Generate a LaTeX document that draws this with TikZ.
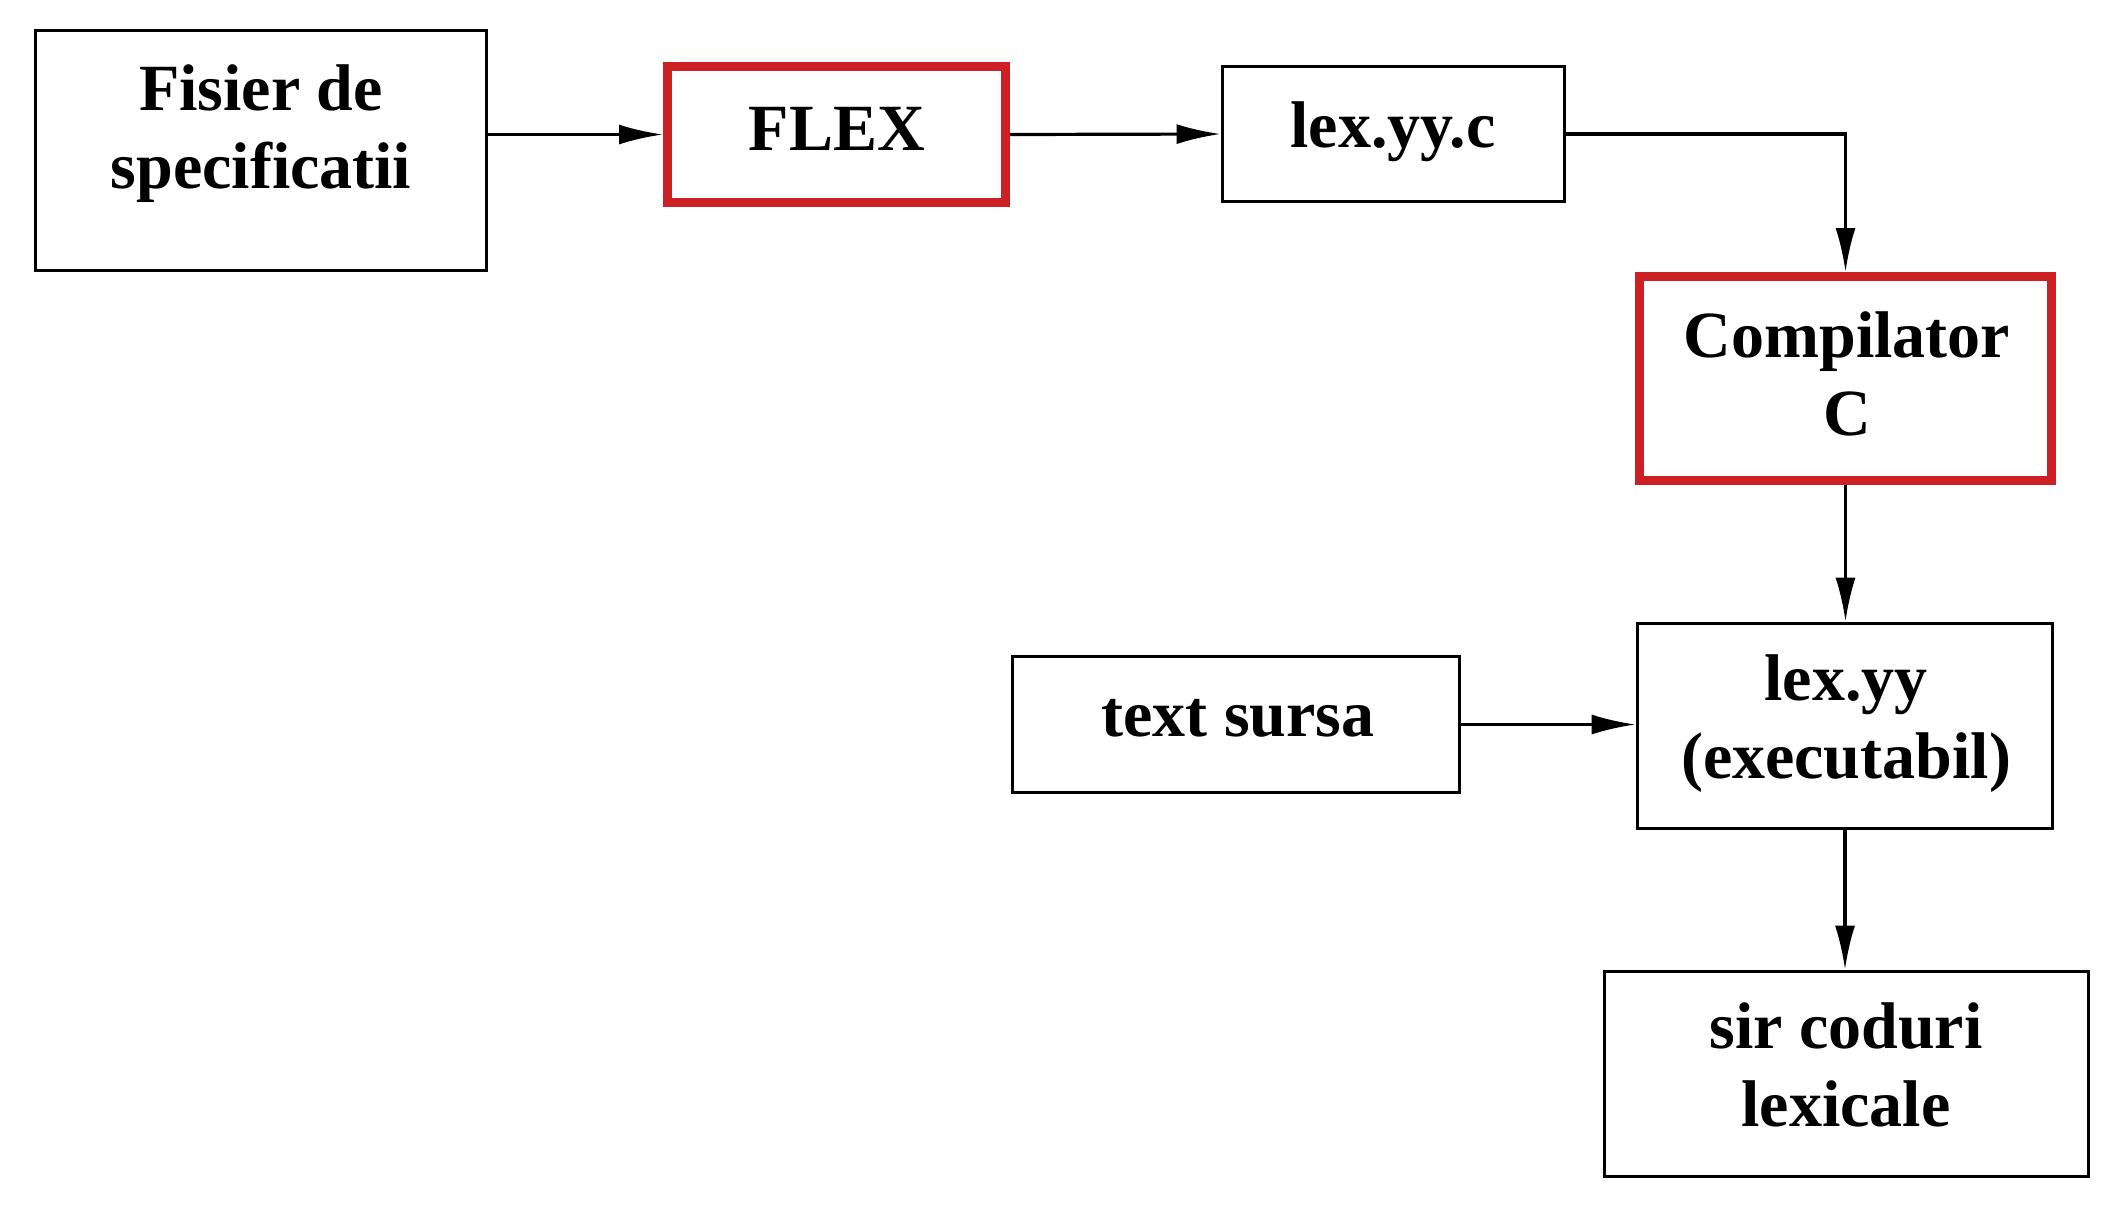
\documentclass[tikz,border=0pt]{standalone}
\usepackage{fontspec}
\setmainfont{Liberation Serif}
\usetikzlibrary{arrows.meta}
\definecolor{boxred}{RGB}{204,32,36}
\begin{document}
\begin{tikzpicture}[x=0.5pt,y=-0.5pt,
  blk/.style={draw=black, line width=1.8pt, inner sep=0pt},
  redblk/.style={draw=boxred, line width=4.5pt, inner sep=0pt},
  lbl/.style={anchor=base, align=center, inner sep=0pt,
    font={\fontsize{33}{39}\selectfont\bfseries}},
  conn/.style={draw=black, line width=1.6pt,
    -{Latex[length=22pt,width=10pt]}}]
\fill[white] (0,0) rectangle (2114,1206);
\useasboundingbox (0,0) rectangle (2114,1206);

% boxes
\node[blk, minimum width=225.5pt, minimum height=120pt] (spec) at (261,150.5) {};
\node[redblk, minimum width=169pt, minimum height=68pt] (flex) at (836.5,134.5) {};
\node[blk, minimum width=171pt, minimum height=67.5pt] (lexc) at (1393.5,134) {};
\node[redblk, minimum width=206pt, minimum height=102pt] (comp) at (1845.5,378.5) {};
\node[blk, minimum width=223.5pt, minimum height=68pt] (src) at (1236,724.5) {};
\node[blk, minimum width=207.5pt, minimum height=102.5pt] (lexyy) at (1845,726) {};
\node[blk, minimum width=242pt, minimum height=102.5pt] (sir) at (1846.5,1074) {};

% texts (base anchor = baseline of the last line)
\node[lbl] (spect) at (261,188) {Fisier de\\specificatii};
\node[lbl] (flext) at (837,150) {FLEX};
\node[lbl] (lexct) at (1393,147) {lex.yy.c};
\node[lbl] (compt) at (1847,435) {Compilator\\C};
\node[lbl] (srct) at (1238,736) {text sursa};
\node[lbl] (lexyyt) at (1846,778) {lex.yy\\(executabil)};
\node[lbl] (sirt) at (1846,1126) {sir coduri\\lexicale};

% connectors
\draw[conn] (spec.east |- flex.west) -- (flex.west);
\draw[conn] (flex.east) -- (lexc.west);
\draw[conn] (lexc.east) -| (comp.north);
\draw[conn] (comp.south) -- (comp.south |- lexyy.north);
\draw[conn] (src.east) -- (src.east -| lexyy.west);
\draw[conn] (lexyy.south) -- (lexyy.south |- sir.north);
\end{tikzpicture}
\end{document}
